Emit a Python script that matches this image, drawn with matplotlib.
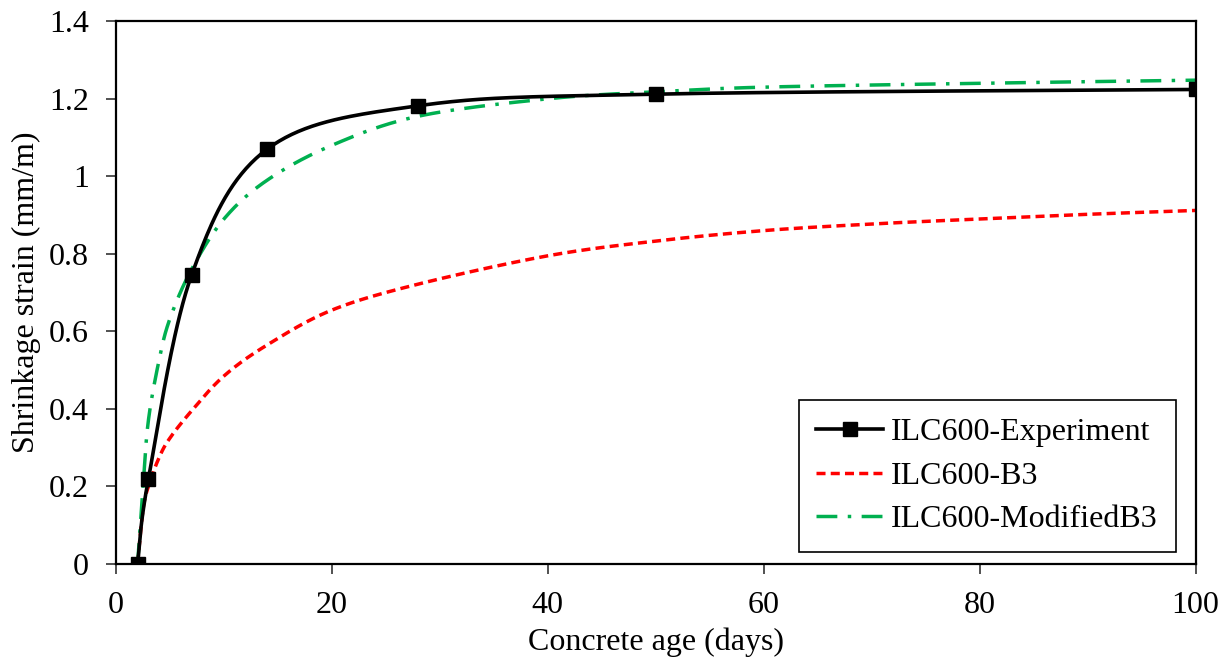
import numpy as np
import matplotlib
matplotlib.use('Agg')
import matplotlib.pyplot as plt

plt.rcParams['font.family'] = ['Liberation Serif', 'DejaVu Serif']

# experiment (smoothed line through the points)
exp_age = [2, 3, 7, 14, 28, 50, 100]
exp_strain = [0.0, 0.219, 0.745, 1.07, 1.182, 1.212, 1.224]

# B3 model
b3_age = [2, 2.5, 3, 4, 5, 7, 10, 14, 20, 28, 40, 50, 60, 70, 80, 90, 100]
b3_strain = [0.0, 0.14, 0.2, 0.275, 0.325, 0.395, 0.485, 0.565, 0.655, 0.722,
             0.795, 0.833, 0.86, 0.877, 0.89, 0.902, 0.912]

# modified B3 model
mb3_age = [2, 2.2, 2.5, 3, 4, 5, 7, 10, 14, 20, 28, 40, 50, 60, 80, 100]
mb3_strain = [0.0, 0.08, 0.2, 0.37, 0.527, 0.633, 0.76, 0.89, 0.99, 1.08,
              1.155, 1.2, 1.218, 1.23, 1.24, 1.248]


def smooth(xs, ys, n=40):
    # excel-like bezier smoothing (catmull-rom, tension 1/6)
    p = np.column_stack([xs, ys]).astype(float)
    p = np.vstack([p[0], p, p[-1]])
    out = []
    t = np.linspace(0, 1, n)[:, None]
    for i in range(1, len(p) - 2):
        p0, p1, p2, p3 = p[i-1], p[i], p[i+1], p[i+2]
        c1 = p1 + (p2 - p0) / 6
        c2 = p2 - (p3 - p1) / 6
        seg = ((1-t)**3)*p1 + 3*((1-t)**2)*t*c1 + 3*(1-t)*t**2*c2 + t**3*p2
        out.append(seg)
    out = np.vstack(out)
    return out[:, 0], out[:, 1]


fig = plt.figure(figsize=(12.3, 6.64), dpi=100)
ax = fig.add_axes([0.0943, 0.1506, 0.8777, 0.8174])

fs = 23
sx, sy = smooth(b3_age, b3_strain)
ax.plot(sx, sy, color='#ff0000', lw=2.5, ls=(0, (2.6, 1.5)), label='ILC600-B3', zorder=2)
sx, sy = smooth(mb3_age, mb3_strain)
ax.plot(sx, sy, color='#00b050', lw=2.5, ls=(0, (6, 3, 1, 3)), label='ILC600-ModifiedB3', zorder=2)
sx, sy = smooth(exp_age, exp_strain)
ax.plot(sx, sy, color='black', lw=2.6, zorder=3)
ax.plot(exp_age, exp_strain, ls='none', marker='s', ms=10, color='black', zorder=4)

# legend proxy for the experiment line+marker
ax.plot([], [], color='black', lw=2.6, marker='s', ms=10, label='ILC600-Experiment')
h, l = ax.get_legend_handles_labels()
order = [2, 0, 1]
leg = ax.legend([h[i] for i in order], [l[i] for i in order],
                loc='lower right', bbox_to_anchor=(0.9815, 0.022),
                fontsize=fs, frameon=True, fancybox=False, framealpha=1,
                edgecolor='black', handlelength=2.1, borderpad=0.55,
                labelspacing=0.45, handletextpad=0.25, borderaxespad=0)
leg.get_frame().set_linewidth(1.2)

ax.set_xlim(0, 100)
ax.set_ylim(0, 1.4)
ax.set_xticks([0, 20, 40, 60, 80, 100])
ax.set_yticks([0, 0.2, 0.4, 0.6, 0.8, 1, 1.2, 1.4])
ax.set_yticklabels(['0', '0.2', '0.4', '0.6', '0.8', '1', '1.2', '1.4'])
ax.tick_params(direction='out', length=7.5, width=1.2, color='#333333',
               labelsize=fs, pad=12)
for s in ax.spines.values():
    s.set_linewidth(1.6)

ax.set_xlabel('Concrete age (days)', fontsize=fs, labelpad=5)
ax.set_ylabel('Shrinkage strain (mm/m)', fontsize=fs, labelpad=6)

fig.savefig('out.png', dpi=100)
